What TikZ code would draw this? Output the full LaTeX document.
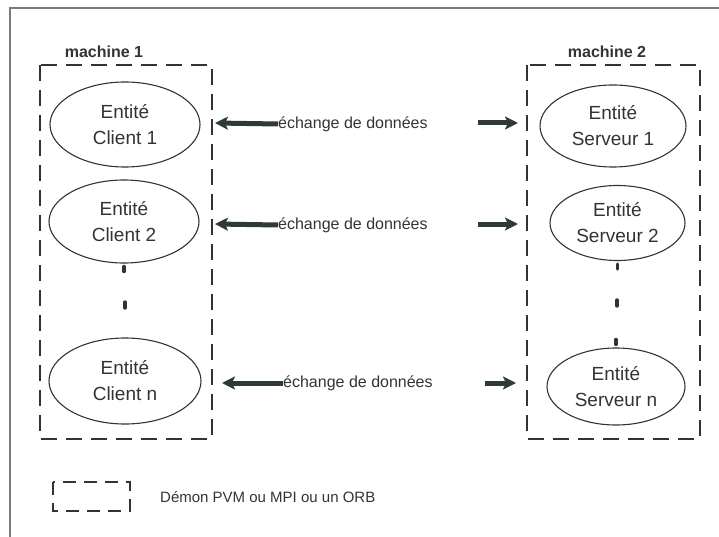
\documentclass[tikz,border=0pt]{standalone}
\usepackage{fontspec}
\setmainfont{Liberation Sans}
\usetikzlibrary{shapes.geometric,arrows.meta}
\definecolor{ink}{HTML}{333333}
\definecolor{arrowink}{HTML}{2E3A36}
\definecolor{frame}{HTML}{7A7A7A}
\begin{document}
\begin{tikzpicture}[x=1pt,y=-1pt,
  daemon/.style={draw=ink, line width=1.3pt, dash pattern=on 16pt off 9pt},
  entity/.style={draw=ink, line width=1.1pt, ellipse, inner sep=0pt, align=center,
    text=ink, font=\fontsize{19}{26}\selectfont},
  title/.style={text=ink, font=\bfseries\fontsize{16}{19}\selectfont},
  xlabel/.style={text=ink, anchor=west, inner sep=0pt, font=\fontsize{16}{19}\selectfont},
  flow/.style={draw=arrowink, line width=5pt, -{Stealth[length=13pt,width=13pt,inset=3pt]}},
  dots/.style={draw=ink, line width=3.4pt, line cap=round}]
\useasboundingbox (0,0) rectangle (719,537);

% outer frame (top and left edges)
\draw[frame, line width=1.6pt] (10,537) -- (10,8) -- (719,8);

% the two machines
\node[title] (m1) at (104,52) {machine 1};
\node[title] (m2) at (607,52) {machine 2};
\draw[daemon] (40,65) rectangle (212,439);
\draw[daemon] (527,65) rectangle (700,439);

% client entities
\node[entity, minimum width=150pt, minimum height=85pt] (c1) at (125,124.5) {Entité\\Client 1};
\node[entity, minimum width=150pt, minimum height=83pt] (c2) at (124,221.5) {Entité\\Client 2};
\node[entity, minimum width=152pt, minimum height=86pt] (cn) at (125,381) {Entité\\Client n};

% server entities
\node[entity, minimum width=146pt, minimum height=82pt] (s1) at (613,126) {Entité\\Serveur 1};
\node[entity, minimum width=135pt, minimum height=75pt] (s2) at (617.5,223) {Entité\\Serveur 2};
\node[entity, minimum width=138pt, minimum height=77pt] (sn) at (616,386.5) {Entité\\Serveur n};

% vertical ellipsis marks
\draw[dots] (c2.south) ++(0,3) -- ++(0,5);
\draw[dots] (125,302) -- (125,308);
\draw[dots] (s2.south) ++(0,3) -- ++(0,5);
\draw[dots] (617,300) -- (617,306);
\draw[dots] (sn.north) ++(0,-8) -- ++(0,5);

% data exchange labels and arrows
\node[xlabel] (x1) at (278,124) {échange de données};
\node[xlabel] (x2) at (278,225) {échange de données};
\node[xlabel] (x3) at (283,383) {échange de données};

\coordinate (l1) at (215,123);
\coordinate (l2) at (215,224);
\coordinate (l3) at (222,383);
\coordinate (r1a) at (478,123);
\coordinate (r1b) at (518,123);
\coordinate (r2a) at (478,224);
\coordinate (r2b) at (518,224);
\coordinate (r3a) at (485,383);
\coordinate (r3b) at (516,383);

\draw[flow] (x1.west) -- (l1);
\draw[flow] (x2.west) -- (l2);
\draw[flow] (x3.west) -- (l3);
\draw[flow] (r1a) -- (r1b);
\draw[flow] (r2a) -- (r2b);
\draw[flow] (r3a) -- (r3b);

% legend
\draw[daemon, dash pattern=on 13pt off 8pt] (53,482) rectangle (130,511);
\node[text=ink, anchor=west, inner sep=0pt, font=\fontsize{15}{18}\selectfont] (leg) at (160,497) {Démon PVM ou MPI ou un ORB};
\end{tikzpicture}
\end{document}
